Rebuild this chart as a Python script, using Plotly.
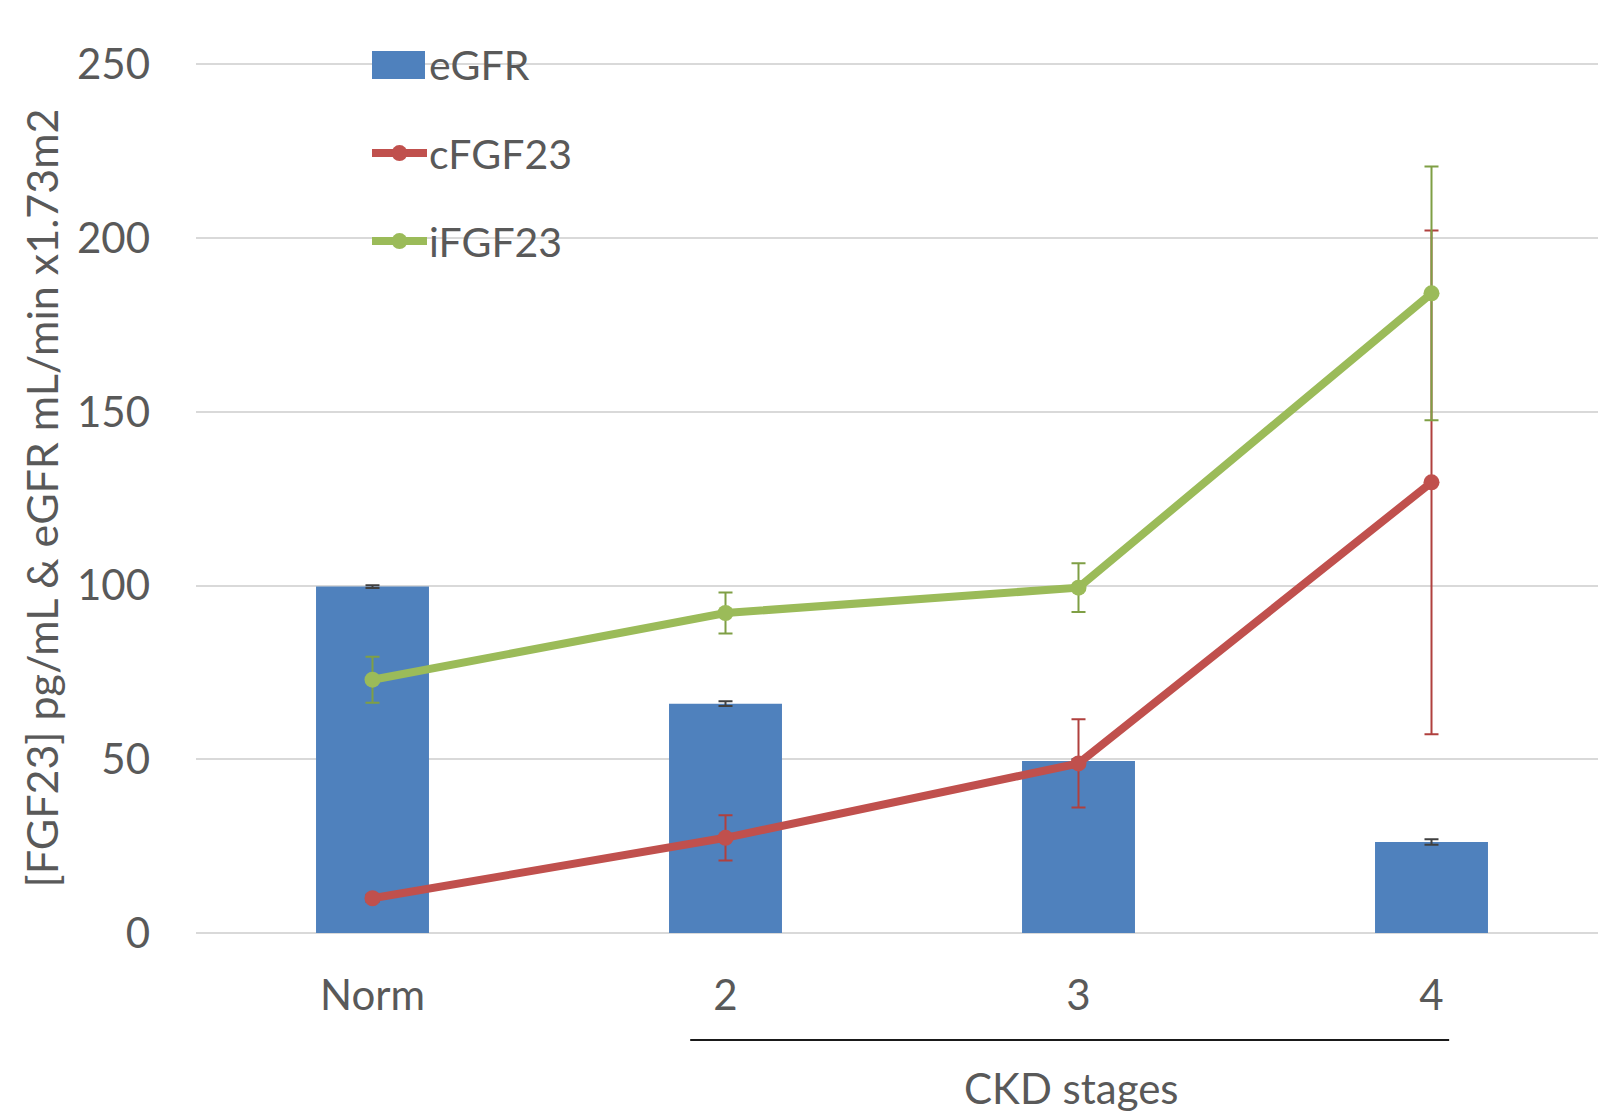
import plotly.graph_objects as go

categories = ["Norm", "2", "3", "4"]
series_names = ["eGFR", "cFGF23", "iFGF23"]
egfr = [99.7, 66.0, 49.5, 26.2]
egfr_err = [0.4, 0.7, 0.5, 0.8]
cfgf23 = [10.0, 27.4, 48.8, 129.7]
cfgf23_err = [1.0, 6.5, 12.7, 72.5]
ifgf23 = [72.9, 92.1, 99.4, 184.1]
ifgf23_err = [6.6, 5.9, 7.0, 36.5]
y_ticks = [0, 50, 100, 150, 200, 250]

BLUE = "#4F81BD"
RED = "#C0504D"
GREEN = "#9BBB59"
TXT = "#595959"
FONT = "Lato, 'Open Sans', sans-serif"

# page offset (body margin) is 8px; plot area target in window px: x 196..1608, y 62.5..933
M_L, M_R, M_T, M_B = 188, 6, 54.5, 186
PLOT_L = 8 + M_L
PLOT_W = 1606 - M_L - M_R
PLOT_B = 8 + 1111 - M_B
PLOT_H = 1111 - M_T - M_B

fig = go.Figure()
fig.add_trace(go.Bar(
    x=categories, y=egfr, name=series_names[0], width=0.32,
    marker=dict(color=BLUE, line=dict(width=0)),
    error_y=dict(type="data", array=egfr_err, color="#404040", thickness=2, width=7),
    showlegend=False,
))
fig.add_trace(go.Scatter(
    x=categories, y=cfgf23, name=series_names[1], mode="lines+markers",
    line=dict(color=RED, width=8), marker=dict(color=RED, size=16),
    error_y=dict(type="data", array=cfgf23_err, color="#B0403E", thickness=2, width=7),
    showlegend=False,
))
fig.add_trace(go.Scatter(
    x=categories, y=ifgf23, name=series_names[2], mode="lines+markers",
    line=dict(color=GREEN, width=8), marker=dict(color=GREEN, size=16),
    error_y=dict(type="data", array=ifgf23_err, color="#7F9F45", thickness=2, width=7),
    showlegend=False,
))

# manual legend (paper coordinates)
def px_x(p):
    return (p - PLOT_L) / float(PLOT_W)

def px_y(p):
    return (PLOT_B - p) / float(PLOT_H)

shapes = []
annotations = []
legend_rows = [64.5, 152.6, 240.7]
colors = [BLUE, RED, GREEN]
for i, name in enumerate(series_names):
    yc = legend_rows[i]
    if i == 0:
        shapes.append(dict(type="rect", xref="paper", yref="paper",
                           x0=px_x(372), x1=px_x(425), y0=px_y(yc - 14), y1=px_y(yc + 14),
                           fillcolor=colors[i], line=dict(width=0)))
    else:
        shapes.append(dict(type="line", xref="paper", yref="paper",
                           x0=px_x(372), x1=px_x(427), y0=px_y(yc), y1=px_y(yc),
                           line=dict(color=colors[i], width=8)))
        shapes.append(dict(type="circle", xref="paper", yref="paper",
                           x0=px_x(391.5), x1=px_x(407.5), y0=px_y(yc - 8), y1=px_y(yc + 8),
                           fillcolor=colors[i], line=dict(width=0)))
    annotations.append(dict(text=name, xref="paper", yref="paper", x=px_x(427), y=px_y(yc),
                            xanchor="left", yanchor="middle", showarrow=False,
                            font=dict(family=FONT, size=41, color=TXT)))

# CKD stages group line and label
shapes.append(dict(type="line", xref="x", yref="paper", x0=0.9, x1=3.05,
                   y0=px_y(1040), y1=px_y(1040), line=dict(color="#1a1a1a", width=2)))
annotations.append(dict(text="CKD stages", xref="x", yref="paper", x=1.98, y=px_y(1061),
                        xanchor="center", yanchor="top", showarrow=False,
                        font=dict(family=FONT, size=42, color=TXT)))

fig.update_layout(
    width=1606, height=1111,
    margin=dict(l=M_L, r=M_R, t=M_T, b=M_B),
    plot_bgcolor="white", paper_bgcolor="white",
    font=dict(family=FONT, size=41, color=TXT),
    shapes=shapes, annotations=annotations,
    bargap=0.5,
)
fig.update_xaxes(
    type="category", categoryorder="array", categoryarray=categories,
    range=[-0.5, 3.5], showgrid=False, showline=False, ticks="",
    ticklabelstandoff=34, tickfont=dict(family=FONT, size=42, color=TXT),
)
fig.update_yaxes(
    range=[0, 250.4], tickvals=y_ticks, showgrid=True, gridcolor="#D9D9D9", gridwidth=2,
    zeroline=True, zerolinecolor="#D9D9D9", zerolinewidth=2, showline=False, ticks="",
    ticklabelstandoff=45, tickfont=dict(family=FONT, size=42, color=TXT),
    title=dict(text="[FGF23] pg/mL & eGFR mL/min x1.73m2", standoff=4,
               font=dict(family=FONT, size=43, color=TXT)),
)

fig.write_html("out.html")
